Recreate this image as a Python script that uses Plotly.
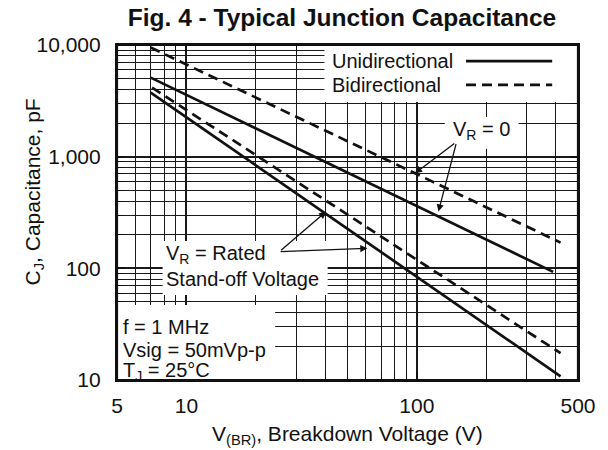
import math
import plotly.graph_objects as go

# ---- data ----
v_uni_0 = [7.0, 390.0]
c_uni_0 = [5100.0, 93.0]
v_bi_0 = [7.0, 420.0]
c_bi_0 = [9500.0, 170.0]
v_uni_r = [7.0, 420.0]
c_uni_r = [3750.0, 10.8]
v_bi_r = [7.1, 420.0]
c_bi_r = [4150.0, 17.4]

x_ticks = [5, 10, 100, 500]
x_ticktext = ["5", "10", "100", "500"]
y_ticks = [10, 100, 1000, 10000]
y_ticktext = ["10", "100", "1,000", "10,000"]

FONT = "Liberation Sans, Arial, Helvetica, sans-serif"
INK = "#111111"
DASH = "10px,6px"

fig = go.Figure()
for v, c, dash in [
    (v_bi_0, c_bi_0, DASH),
    (v_uni_0, c_uni_0, "solid"),
    (v_bi_r, c_bi_r, DASH),
    (v_uni_r, c_uni_r, "solid"),
]:
    fig.add_trace(go.Scatter(x=v, y=c, mode="lines",
                             line=dict(color=INK, width=2.7, dash=dash),
                             showlegend=False, hoverinfo="skip"))

axis_common = dict(
    type="log", showline=True, linecolor=INK, linewidth=2.2, mirror="ticks",
    ticks="inside", ticklen=8, tickwidth=1.5, tickcolor=INK,
    showgrid=True, gridcolor="#1a1a1a", gridwidth=1.5, zeroline=False,
    tickfont=dict(family=FONT, size=21, color=INK),
    minor=dict(dtick="D1", showgrid=True, gridcolor="#1a1a1a", gridwidth=1.4,
               ticks="inside", ticklen=8, tickwidth=1.4, tickcolor=INK),
)

fig.update_xaxes(range=[math.log10(5), math.log10(500)], tickvals=x_ticks,
                 ticktext=x_ticktext, ticklabelstandoff=6, **axis_common)
fig.update_yaxes(range=[1, 4], tickvals=y_ticks, ticktext=y_ticktext,
                 ticklabelstandoff=10, **axis_common)

# white boxes covering the grid
boxes = [
    (0.45, 0.83, 1.0, 1.0),        # legend box
    (0.0, 0.0, 0.343, 0.224),      # conditions box
    (0.099, 0.254, 0.457, 0.415),  # rated text box
    (0.711, 0.69, 0.871, 0.785),   # VR=0 text box
]
for x0, y0, x1, y1 in boxes:
    fig.add_shape(type="rect", xref="paper", yref="paper", x0=x0, y0=y0, x1=x1, y1=y1,
                  fillcolor="white", line=dict(width=0), layer="above")

# frame redrawn on top of the white boxes
fig.add_shape(type="rect", xref="paper", yref="paper", x0=0, y0=0, x1=1, y1=1,
              line=dict(color=INK, width=2.2), fillcolor="rgba(0,0,0,0)", layer="above")

# legend samples
fig.add_shape(type="line", xref="paper", yref="paper", x0=0.757, x1=0.944, y0=0.952, y1=0.952,
              line=dict(color=INK, width=2.6), layer="above")
fig.add_shape(type="line", xref="paper", yref="paper", x0=0.757, x1=0.944, y0=0.881, y1=0.881,
              line=dict(color=INK, width=2.6, dash=DASH), layer="above")

ann = []
def txt(text, x, y, size=20, xanchor="left", **kw):
    ann.append(dict(text=text, x=x, y=y, xref="paper", yref="paper", showarrow=False,
                    xanchor=xanchor, yanchor="middle",
                    font=dict(family=FONT, size=size, color=INK), **kw))

txt("Unidirectional", 0.462, 0.952)
txt("Bidirectional", 0.462, 0.881)
txt("V<sub>R</sub> = 0", 0.79, 0.746, xanchor="center")
txt("V<sub>R</sub> = Rated", 0.103, 0.376)
txt("Stand-off Voltage", 0.103, 0.302)
txt("f = 1 MHz", 0.008, 0.157)
txt("Vsig = 50mVp-p", 0.008, 0.09)
txt("T<sub>J</sub> = 25°C", 0.008, 0.024)

# axis titles
txt("V<sub>(BR)</sub>, Breakdown Voltage (V)", 0.499, -0.165, size=21, xanchor="center")
ann.append(dict(text="C<sub>J</sub>, Capacitance, pF", x=-0.18, y=0.56, xref="paper", yref="paper",
                showarrow=False, textangle=-90, xanchor="center", yanchor="middle",
                font=dict(family=FONT, size=21, color=INK)))

# arrows (tip in data coordinates, tail offset in pixels)
def arrow(xv, yv, ax, ay):
    ann.append(dict(text="", x=math.log10(xv), y=math.log10(yv), xref="x", yref="y",
                    showarrow=True, ax=ax, ay=ay, arrowhead=2, arrowsize=1.1,
                    arrowwidth=1.3, arrowcolor=INK, standoff=0))

arrow(98, 710, 41, -31)
arrow(124, 322, 18, -69)
arrow(40.4, 322, -46.6, 40)
arrow(61, 151, -88.3, 3.4)

fig.update_layout(
    width=608, height=450,
    margin=dict(l=117, r=25, t=45, b=70),
    paper_bgcolor="white", plot_bgcolor="white",
    title=dict(text="<b>Fig. 4 - Typical Junction Capacitance</b>",
               x=0.5625, xref="container", xanchor="center",
               y=0.962, yanchor="middle", yref="container",
               font=dict(family=FONT, size=24.5, color=INK)),
    annotations=ann,
)

fig.write_html("out.html", config={"displayModeBar": False},
               post_script="document.body.style.margin='0';document.body.style.overflow='hidden';")
